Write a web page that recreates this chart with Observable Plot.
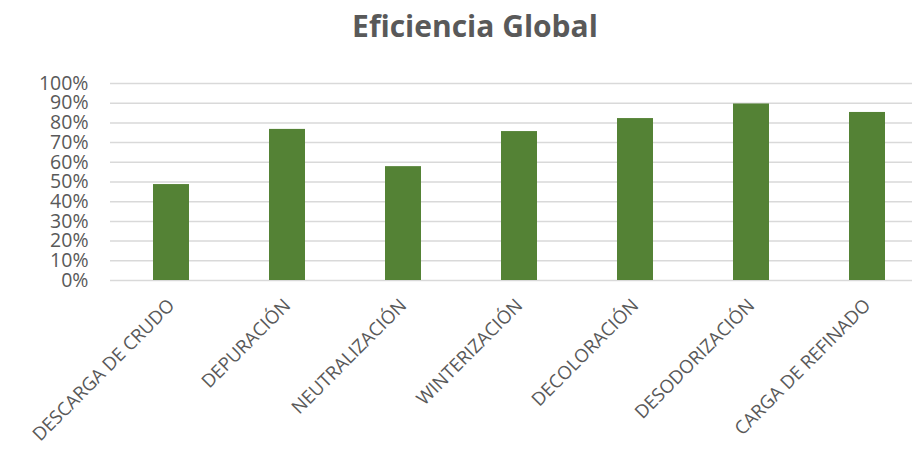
<!DOCTYPE html>
<html>
<head>
<meta charset="utf-8">
<script src="https://cdn.jsdelivr.net/npm/d3@7"></script>
<script src="https://cdn.jsdelivr.net/npm/@observablehq/plot@0.6"></script>
<style>
  html, body { margin: 0; padding: 0; background: #fff; overflow: hidden; }
  #wrap { width: 912px; height: 457px; position: relative; }
  #title { position: absolute; left: 0; top: 8px; width: 912px; padding-left: 38px; box-sizing: border-box;
    text-align: center; font-family: "Open Sans", sans-serif; font-weight: bold; font-size: 30px; color: #595959; line-height: 1.2; }
  #chart { position: absolute; left: 0; top: 0; }
</style>
</head>
<body>
<div id="wrap">
  <div id="chart"></div>
  <div id="title">Eficiencia Global</div>
</div>
<script>
const categories = ["DESCARGA DE CRUDO", "DEPURACIÓN", "NEUTRALIZACIÓN", "WINTERIZACIÓN", "DECOLORACIÓN", "DESODORIZACIÓN", "CARGA DE REFINADO"];
const values = [0.487, 0.767, 0.578, 0.756, 0.822, 0.896, 0.853];
const yTicks = [0, 0.1, 0.2, 0.3, 0.4, 0.5, 0.6, 0.7, 0.8, 0.9, 1.0];

const data = categories.map((c, i) => ({category: c, value: values[i]}));

const chart = Plot.plot({
  width: 912,
  height: 457,
  marginTop: 83,
  marginBottom: 177,
  marginLeft: 110,
  marginRight: -15,
  style: {fontFamily: "Open Sans, sans-serif", color: "#595959", background: "transparent", overflow: "visible"},
  x: {domain: categories, paddingInner: 0.69, paddingOuter: 0.345, label: null},
  y: {domain: [0, 1], label: null},
  marks: [
    Plot.gridY(yTicks, {stroke: "#d9d9d9", strokeOpacity: 1, strokeWidth: 1.5}),
    Plot.barY(data, {x: "category", y: "value", fill: "#548235"}),
    Plot.axisY(yTicks, {tickFormat: d3.format(".0%"), tickSize: 0, tickPadding: 22, fontSize: 19.5, fill: "#595959"}),
    Plot.axisX({tickRotate: -45, tickSize: 0, tickPadding: 22, fontSize: 18.5, fill: "#595959"})
  ]
});
document.getElementById("chart").appendChild(chart);
</script>
</body>
</html>
